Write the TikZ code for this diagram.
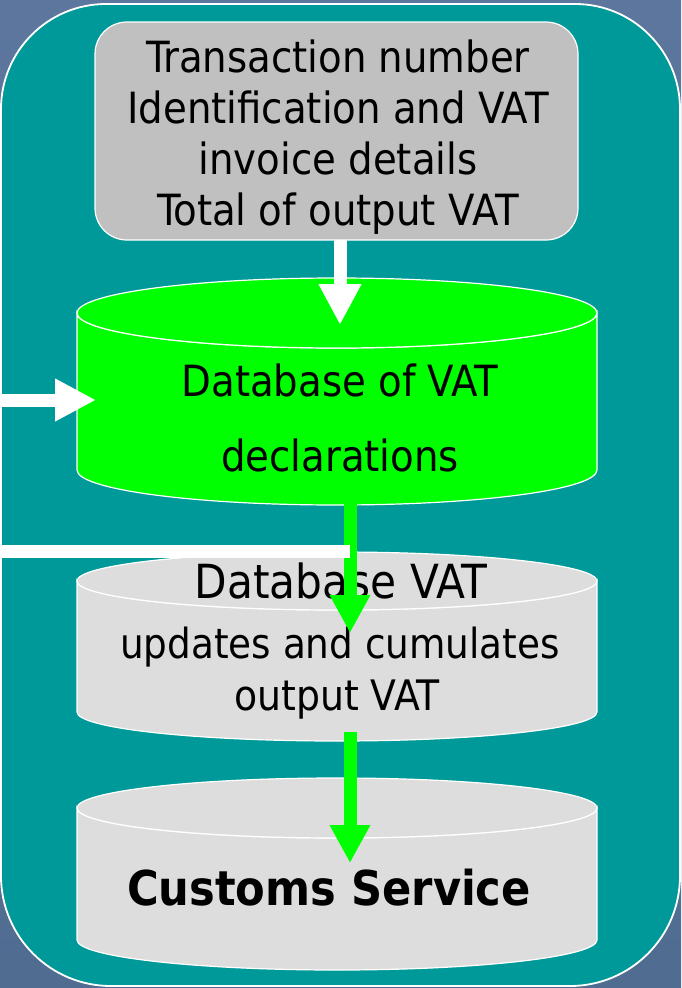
\documentclass[tikz,border=0pt]{standalone}
\usepackage{fontspec}
\setmainfont{DejaVu Sans Condensed}
\usetikzlibrary{arrows.meta}
\definecolor{bgtop}{RGB}{92,118,158}
\definecolor{bgbot}{RGB}{80,108,145}
\definecolor{panel}{RGB}{0,153,153}
\definecolor{boxgrey}{RGB}{192,192,192}
\definecolor{cylgrey}{RGB}{221,221,221}
\definecolor{vgreen}{RGB}{0,255,0}
\tikzset{
  panelbox/.style={fill=panel,draw=white,line width=1.8pt},
  infobox/.style={fill=boxgrey,draw=white,line width=1.2pt,rounded corners=32pt},
  cylfill/.style={draw=white,line width=1.2pt},
  txt/.style={inner sep=0pt,align=center,font=\fontsize{43}{51}\selectfont},
  whitearrow/.style={draw=white,line width=13pt,-{Triangle[length=41pt,width=40pt]}},
  greenarrow/.style={draw=vgreen,line width=13pt,-{Triangle[length=38pt,width=38pt]}},
  whiteline/.style={draw=white,line width=13pt},
}
\newcommand{\cyl}[6]{% #1 xl, #2 xr, #3 ytop center, #4 ry top, #5 ybot center, #6 fill
  \pgfmathsetmacro{\rx}{(#2-#1)/2}
  \path[cylfill,fill=#6] (#1,#3) -- (#1,#5) arc[start angle=180,end angle=0,x radius=\rx,y radius=#4] -- (#2,#3) arc[start angle=0,end angle=180,x radius=\rx,y radius=#4] -- cycle;
  \path[cylfill,fill=#6] ({(#1+#2)/2},#3) ellipse[x radius=\rx,y radius=#4];
}
\begin{document}
\begin{tikzpicture}[x=1pt,y=-1pt]
\shade[top color=bgtop,bottom color=bgbot] (0,0) rectangle (681,988);
\useasboundingbox (0,0) rectangle (681,988);
\path[panelbox] (1,109) arc[start angle=180,end angle=270,radius=105]
  -- (575,4) arc[start angle=270,end angle=360,radius=105]
  -- (680,876) arc[start angle=0,end angle=90,radius=110]
  -- (111,986) arc[start angle=90,end angle=180,radius=110] -- cycle;
% top info box
\path[infobox] (95,22) rectangle (578,240);
\node[txt] (info) at (338,137) {Transaction number\\Identification and VAT\\invoice details\\Total of output VAT};
\coordinate (infobot) at (340,240);
% green cylinder
\cyl{77}{597}{313}{35}{470}{vgreen}
\node[txt,font=\fontsize{43}{75}\selectfont] (decl) at (340,418) {Database of VAT\\declarations};
\coordinate (decltop) at (340,325);
\coordinate (declleft) at (96,400);
\coordinate (declbot) at (350,504);
% grey cylinder 2
\cyl{77}{597}{581}{29}{712}{cylgrey}
\node[txt,anchor=base,font=\fontsize{47}{56}\selectfont] (upd1) at (341,598) {Database VAT};
\node[txt,anchor=base,font=\fontsize{41.5}{51}\selectfont] (upd2) at (340,658) {updates and cumulates};
\node[txt,anchor=base,font=\fontsize{42}{51}\selectfont] (upd3) at (337,710) {output VAT};
\coordinate (updtop) at (350,633);
\coordinate (updbot) at (350,732);
% grey cylinder 3
\cyl{77}{597}{808}{30}{940}{cylgrey}
\node[txt,anchor=base,font=\fontsize{48}{56}\selectfont\bfseries] (cust) at (329,905) {Customs Service};
\coordinate (custtop) at (350,863);
% external ends
\coordinate (inleft) at (0,400);
\coordinate (outleft) at (0,551);
\coordinate (outright) at (350,551);
% connectors
\draw[whitearrow] (infobot) -- (decltop);
\draw[whitearrow] (inleft) -- (declleft);
\draw[greenarrow] (declbot) -- (updtop);
\draw[greenarrow] (updbot) -- (custtop);
\draw[whiteline] (outleft) -- (outright);
\end{tikzpicture}
\end{document}
